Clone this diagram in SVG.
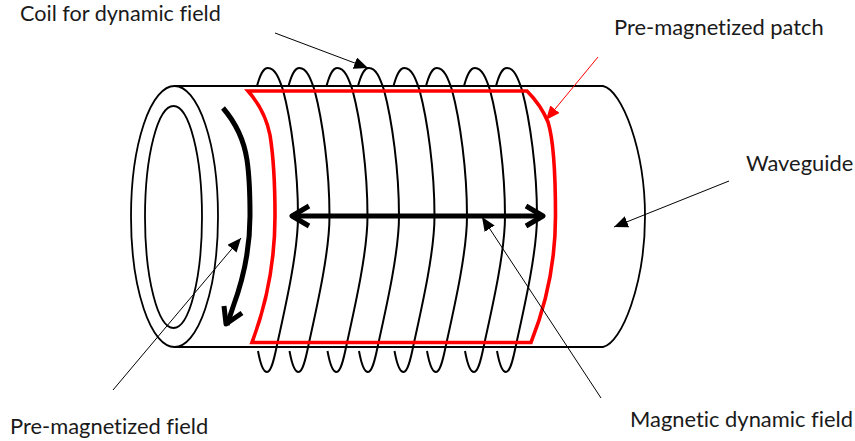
<svg xmlns="http://www.w3.org/2000/svg" width="855" height="441" viewBox="0 0 855 441">
<style>
.w{fill:none;stroke:#000;stroke-width:1.8}
.c{fill:none;stroke:#000;stroke-width:2}
.r{fill:none;stroke:#f00;stroke-width:3.6}
.t{fill:none;stroke:#000;stroke-width:1}
.k{fill:none;stroke:#000;stroke-width:5;stroke-linejoin:round}
text{font-family:Lato,"Liberation Sans",sans-serif;font-size:21.9px;fill:#1a1a1a;font-variant-ligatures:none}
</style>
<defs>
<marker id="a" markerUnits="userSpaceOnUse" markerWidth="16" markerHeight="14" refX="14" refY="6" orient="auto"><path d="M0 0L14 6L0 12z" fill="#000"/></marker>
<marker id="ar" markerUnits="userSpaceOnUse" markerWidth="16" markerHeight="14" refX="14" refY="6" orient="auto"><path d="M0 0L14 6L0 12z" fill="#f00"/></marker>
<path id="turn" class="c" d="M257 86C260 75 263 68 268 68C275 68 279 78 283 90C291 120 298 170 298 216C298 250 287 300 277 345C274 360 271 372 267 372C263 372 260 362 258 351"/>
</defs>
<rect width="855" height="441" fill="#fff"/>
<g id="waveguide">
<path class="w" d="M174 86H603C622 90 645 150 645 216.500C645 283 622 343 603 347H174"/>
<ellipse class="w" cx="174.500" cy="216.500" rx="43.500" ry="130.500"/>
<ellipse class="w" cx="173.500" cy="217" rx="28.500" ry="111"/>
</g>
<g id="coil">
<use href="#turn"/>
<use href="#turn" x="31.500"/>
<use href="#turn" x="69.500"/>
<use href="#turn" x="101"/>
<use href="#turn" x="136.500"/>
<use href="#turn" x="169"/>
<use href="#turn" x="207"/>
<use href="#turn" x="239"/>
</g>
<g id="patch">
<path class="r" d="M248 91H527C536 100 543 110 548 122C553 138 555.500 175 555.500 216C555.500 260 548 300 531 342.500H252C268 300 275 260 275 216C275 190 274 160 270 135C266 115 256 100 248 91Z"/>
</g>
<g id="connectors">
<path class="k" d="M223 108C235 122 244 140 247 160C250 180 250 200 250 216C250 250 243 280 233 307L227 325"/>
<path class="k" d="M224 306L226 324L242 313"/>
<path class="k" d="M292 216H543"/>
<path class="k" d="M309 206L292 216L309 226M526 206L543 216L526 226"/>
<path class="t" marker-end="url(#a)" d="M275 33L368 68"/>
<path fill="none" stroke="#f00" stroke-width="1" marker-end="url(#ar)" d="M598 57L546 120"/>
<path class="t" marker-end="url(#a)" d="M729 181L614 227"/>
<path class="t" marker-end="url(#a)" d="M601 398L482 217"/>
<path class="t" marker-end="url(#a)" d="M113 390L241 238"/>
</g>
<text x="20" y="21" style="font-size:21.6px">Coil for dynamic field</text>
<text x="614" y="35">Pre-magnetized patch</text>
<text x="746" y="171">Waveguide</text>
<text x="10" y="434">Pre-magnetized field</text>
<text x="630" y="427">Magnetic dynamic field</text>
</svg>
